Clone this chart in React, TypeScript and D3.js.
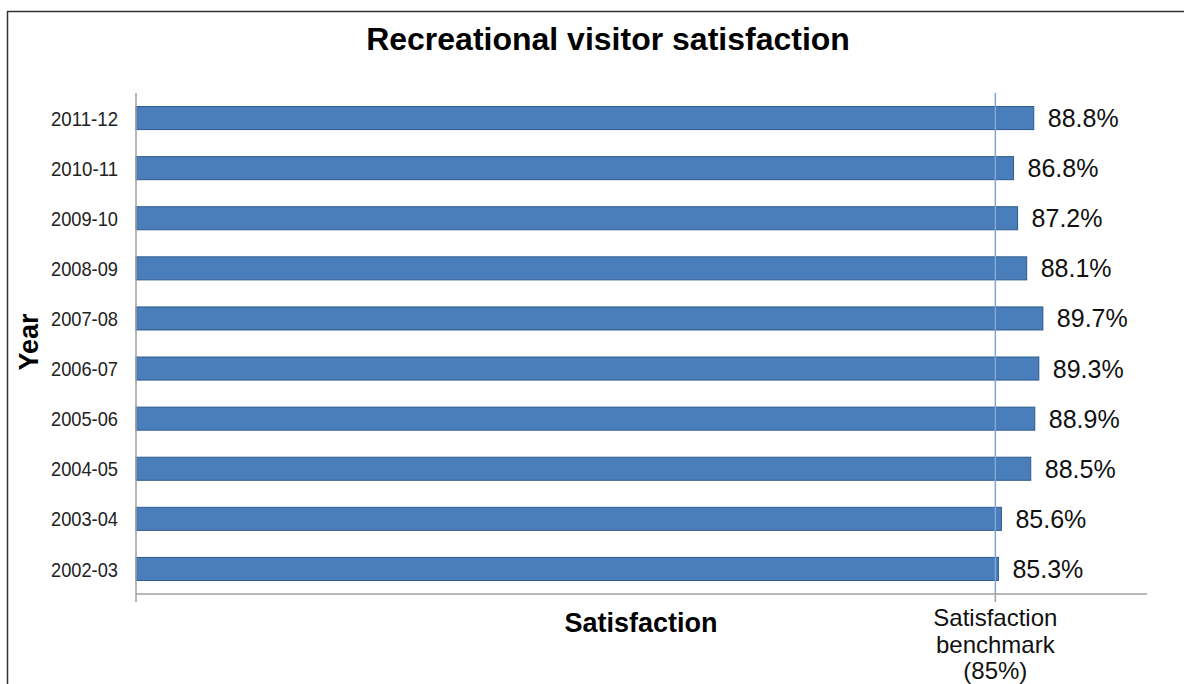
import React from "react";
import * as d3 from "d3";

const years = ["2011-12", "2010-11", "2009-10", "2008-09", "2007-08", "2006-07", "2005-06", "2004-05", "2003-04", "2002-03"];
const satisfaction = [88.8, 86.8, 87.2, 88.1, 89.7, 89.3, 88.9, 88.5, 85.6, 85.3];
const benchmark = 85;
const xDomain = [0, 100];
const benchmarkLabel = ["Satisfaction", "benchmark", "(85%)"];

const W = 1184;
const H = 684;
const FONT = "'Liberation Sans', Arial, sans-serif";

export default function App() {
  const left = 136, right = 1147, top = 93, bottom = 594;
  const x = d3.scaleLinear().domain(xDomain).range([left, right]);
  const y = d3.scaleBand<string>().domain(years).range([top, bottom]).paddingInner(0.54).paddingOuter(0.27);
  const bx = x(benchmark);

  return (
    <svg width={W} height={H} style={{ position: "absolute", left: 0, top: 0, background: "#fff" }} fontFamily={FONT}>
      <rect x={0} y={0} width={W} height={H} fill="#fff" />
      {/* frame */}
      <line x1={7} x2={W} y1={11.5} y2={11.5} stroke="#333" strokeWidth={1.5} />
      <line x1={7.5} x2={7.5} y1={11} y2={H} stroke="#333" strokeWidth={1.5} />

      {/* title */}
      <text x={608} y={50} textAnchor="middle" fontSize={32} fontWeight="bold" fill="#000">
        Recreational visitor satisfaction
      </text>

      {/* bars */}
      {years.map((yr, i) => (
        <rect key={yr} x={x(0)} y={y(yr)!} width={x(satisfaction[i]) - x(0)} height={y.bandwidth()} fill="#4a7ebb" stroke="#2f5a8e" strokeWidth={1} />
      ))}

      {/* benchmark line */}
      <line x1={bx} x2={bx} y1={top} y2={bottom} stroke="#7fa6d6" strokeWidth={1.5} />

      {/* axes */}
      <line x1={left} x2={left} y1={top} y2={bottom + 8} stroke="#a0a0a0" strokeWidth={1.5} />
      <line x1={left} x2={right} y1={bottom} y2={bottom} stroke="#a0a0a0" strokeWidth={1.5} />
      <line x1={bx} x2={bx} y1={bottom} y2={bottom + 8} stroke="#a0a0a0" strokeWidth={1.5} />

      {/* category labels */}
      {years.map((yr) => (
        <text key={yr} x={118} y={y(yr)! + y.bandwidth() / 2} dy="0.36em" textAnchor="end" fontSize={21} fill="#222" textLength={67} lengthAdjust="spacingAndGlyphs">
          {yr}
        </text>
      ))}

      {/* value labels */}
      {years.map((yr, i) => (
        <text key={yr} x={x(satisfaction[i]) + 14} y={y(yr)! + y.bandwidth() / 2} dy="0.36em" fontSize={25} fill="#111">
          {satisfaction[i].toFixed(1)}%
        </text>
      ))}

      {/* axis titles */}
      <text transform={`translate(38,342) rotate(-90)`} textAnchor="middle" fontSize={27} fontWeight="bold" fill="#000">
        Year
      </text>
      <text x={641} y={632} textAnchor="middle" fontSize={27} fontWeight="bold" fill="#000">
        Satisfaction
      </text>

      {/* benchmark label */}
      {benchmarkLabel.map((t, i) => (
        <text key={t} x={bx} y={626 + i * 26.5} textAnchor="middle" fontSize={24} fill="#111">
          {t}
        </text>
      ))}
    </svg>
  );
}
